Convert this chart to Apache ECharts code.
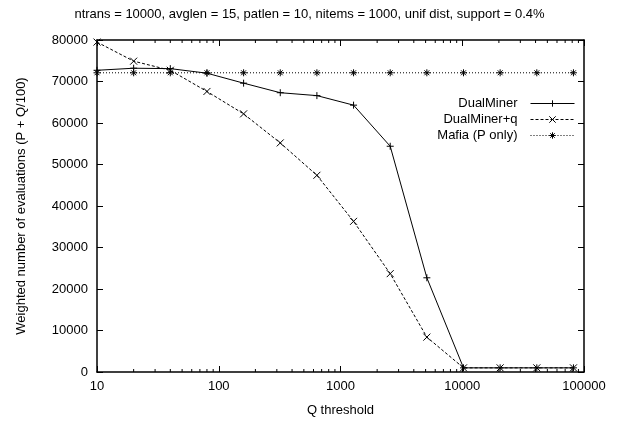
<!DOCTYPE html>
<html>
<head>
<meta charset="utf-8">
<script src="https://cdn.jsdelivr.net/npm/echarts@6/dist/echarts.min.js"></script>
<style>
  html, body { margin: 0; padding: 0; background: #fff; }
  #chart { width: 619px; height: 423px; }
</style>
</head>
<body>
<div id="chart"></div>
<script>
const qThreshold = [10, 20, 40, 80, 160, 320, 640, 1280, 2560, 5120, 10240, 20480, 40960, 81920];
const dualMiner = [72700, 73200, 73100, 72000, 69600, 67300, 66600, 64300, 54400, 22700, 1000, 1000, 1000, 1000];
const dualMinerQ = [79500, 74900, 72700, 67600, 62200, 55200, 47400, 36300, 23700, 8400, 1000, 1000, 1000, 1000];
const mafia = [72100, 72100, 72100, 72100, 72100, 72100, 72100, 72100, 72100, 72100, 72100, 72100, 72100, 72100];
const minorTicks = [20, 30, 40, 50, 60, 70, 80, 90, 200, 300, 400, 500, 600, 700, 800, 900,
  2000, 3000, 4000, 5000, 6000, 7000, 8000, 9000, 20000, 30000, 40000, 50000, 60000, 70000, 80000, 90000];

const FONT = 'Liberation Sans';
const plusSym = 'path://M0,5L10,5M5,0L5,10';
const crossSym = 'path://M1,1L9,9M1,9L9,1';
const starSym = 'path://M0,5L10,5M5,0L5,10M1.5,1.5L8.5,8.5M1.5,8.5L8.5,1.5';

function pairs(ys) {
  return qThreshold.map((x, i) => [x, ys[i]]);
}

function lineSeries(name, ys, sym, type) {
  return {
    name: name,
    type: 'line',
    data: pairs(ys),
    symbol: sym,
    symbolSize: 7,
    showSymbol: true,
    lineStyle: { color: '#000', width: 1, type: type },
    itemStyle: { color: 'transparent', borderColor: '#000', borderWidth: 1 },
    emphasis: { disabled: true },
    animation: false
  };
}

const plain = v => String(v);

const chart = echarts.init(document.getElementById('chart'), null, { renderer: 'canvas' });

const option = {
  animation: false,
  textStyle: { fontFamily: FONT, color: '#000' },
  title: {
    text: 'ntrans = 10000, avglen = 15, patlen = 10, nitems = 1000, unif dist, support = 0.4%',
    left: 'center',
    top: 3,
    textStyle: { fontFamily: FONT, fontSize: 13, fontWeight: 'normal', color: '#000' }
  },
  grid: { left: 97, right: 35, top: 40, bottom: 51 },
  legend: {
    orient: 'vertical',
    right: 39,
    top: 92,
    align: 'right',
    itemWidth: 44,
    itemHeight: 8,
    itemGap: 3,
    textStyle: { fontFamily: FONT, fontSize: 13, color: '#000', padding: [0, 8, 0, 0] },
    itemStyle: { color: 'transparent', borderColor: '#000', borderWidth: 1 },
    lineStyle: { width: 1 },
    data: ['DualMiner', 'DualMiner+q', 'Mafia (P only)']
  },
  xAxis: [{
    type: 'log',
    logBase: 10,
    min: 10,
    max: 100000,
    name: 'Q threshold',
    nameLocation: 'middle',
    nameGap: 32,
    nameTextStyle: { fontFamily: FONT, fontSize: 13, color: '#000' },
    axisLine: { onZero: false, lineStyle: { color: '#000', width: 1.5 } },
    axisTick: { inside: true, length: 6, lineStyle: { color: '#000' } },
    axisLabel: { fontFamily: FONT, fontSize: 13, color: '#000', margin: 8, formatter: plain },
    splitLine: { show: false }
  }, {
    type: 'log',
    logBase: 10,
    min: 10,
    max: 100000,
    position: 'top',
    axisLine: { onZero: false, lineStyle: { color: '#000', width: 1.5 } },
    axisTick: { inside: true, length: 6, lineStyle: { color: '#000' } },
    axisLabel: { show: false },
    splitLine: { show: false }
  }],
  yAxis: [{
    type: 'value',
    min: 0,
    max: 80000,
    interval: 10000,
    name: 'Weighted number of evaluations (P + Q/100)',
    nameLocation: 'middle',
    nameGap: 69,
    nameTextStyle: { fontFamily: FONT, fontSize: 13, color: '#000' },
    axisLine: { show: true, onZero: false, lineStyle: { color: '#000', width: 1.5 } },
    axisTick: { show: true, inside: true, length: 6, lineStyle: { color: '#000' } },
    axisLabel: { fontFamily: FONT, fontSize: 13, color: '#000', margin: 9, formatter: plain },
    splitLine: { show: false }
  }, {
    type: 'value',
    min: 0,
    max: 80000,
    interval: 10000,
    position: 'right',
    axisLine: { show: true, onZero: false, lineStyle: { color: '#000', width: 1.5 } },
    axisTick: { show: true, inside: true, length: 6, lineStyle: { color: '#000' } },
    axisLabel: { show: false },
    splitLine: { show: false }
  }],
  series: [
    lineSeries('DualMiner', dualMiner, plusSym, 'solid'),
    lineSeries('DualMiner+q', dualMinerQ, crossSym, [3, 2]),
    lineSeries('Mafia (P only)', mafia, starSym, [1, 2]),
    {
      // minor ticks of the log x axis, bottom and top
      type: 'custom',
      silent: true,
      clip: false,
      data: minorTicks.map(v => [v, 0]),
      renderItem: function (params, api) {
        const p = api.coord([api.value(0), 0]);
        const cs = params.coordSys;
        return {
          type: 'group',
          children: [
            { type: 'line', shape: { x1: p[0], y1: cs.y + cs.height, x2: p[0], y2: cs.y + cs.height - 3 }, style: { stroke: '#000', lineWidth: 1 } },
            { type: 'line', shape: { x1: p[0], y1: cs.y, x2: p[0], y2: cs.y + 3 }, style: { stroke: '#000', lineWidth: 1 } }
          ]
        };
      }
    }
  ]
};

chart.setOption(option);
</script>
</body>
</html>
